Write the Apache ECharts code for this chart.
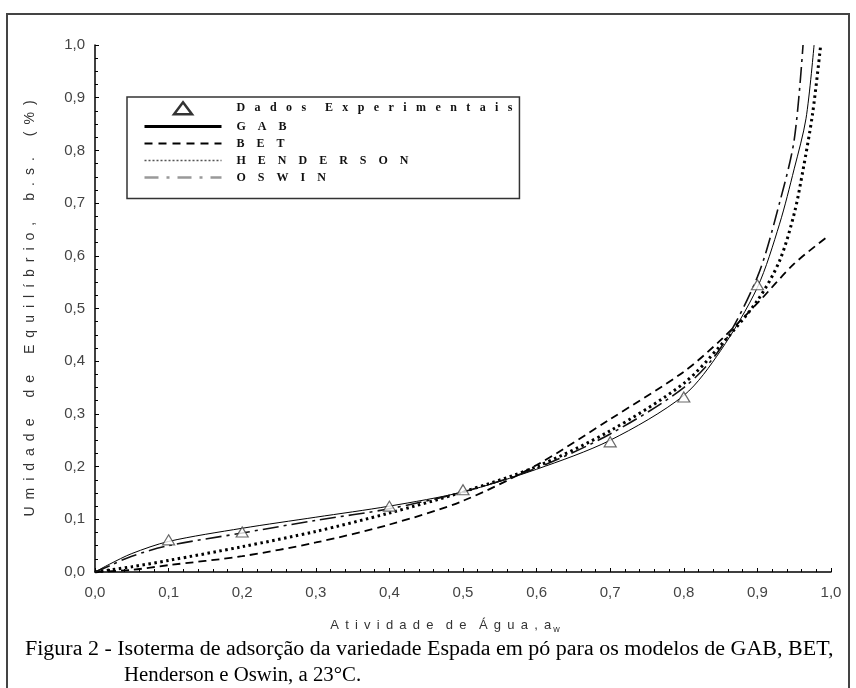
<!DOCTYPE html>
<html>
<head>
<meta charset="utf-8">
<script src="https://cdn.jsdelivr.net/npm/echarts@6/dist/echarts.min.js"></script>
<style>
  html, body { margin: 0; padding: 0; background: #fff; }
  #chart { width: 856px; height: 688px; }
</style>
</head>
<body>
<div id="chart"></div>
<script>
// pontos experimentais
const expAw = [0.1, 0.2, 0.4, 0.5, 0.7, 0.8, 0.9]
const expM = [0.061, 0.076, 0.125, 0.156, 0.247, 0.332, 0.545]

// curvas dos modelos
const gabAw = [0, 0.02, 0.05, 0.1, 0.2, 0.3, 0.4, 0.5, 0.6, 0.7, 0.8, 0.85, 0.9, 0.93, 0.95, 0.966, 0.977]
const gabM = [0, 0.015, 0.035, 0.058, 0.083, 0.104, 0.125, 0.152, 0.195, 0.25, 0.335, 0.42, 0.54, 0.66, 0.765, 0.86, 1.0]

const betAw = [0, 0.05, 0.1, 0.2, 0.3, 0.4, 0.5, 0.6, 0.7, 0.8, 0.85, 0.9, 0.95, 0.995]
const betM = [0, 0.004, 0.013, 0.03, 0.056, 0.09, 0.135, 0.203, 0.29, 0.38, 0.44, 0.51, 0.585, 0.636]

const hendAw = [0, 0.05, 0.1, 0.2, 0.3, 0.4, 0.5, 0.6, 0.7, 0.8, 0.85, 0.9, 0.93, 0.95, 0.962, 0.975, 0.986]
const hendM = [0, 0.01, 0.022, 0.048, 0.077, 0.112, 0.152, 0.2, 0.268, 0.358, 0.43, 0.515, 0.59, 0.68, 0.763, 0.87, 1.0]

const oswAw = [0, 0.02, 0.05, 0.1, 0.2, 0.3, 0.4, 0.5, 0.6, 0.7, 0.8, 0.85, 0.9, 0.93, 0.95, 0.962]
const oswM = [0, 0.012, 0.03, 0.05, 0.074, 0.098, 0.12, 0.152, 0.197, 0.262, 0.35, 0.425, 0.56, 0.7, 0.82, 1.0]

const pairs = (xs, ys) => xs.map((x, i) => [x, ys[i]])
const fmt = (v) => v.toFixed(1).replace('.', ',')
// espaçamento entre letras, como no original
const spaced = (s, gap, wordGap) => s.split(' ').map((w) => w.split('').join(gap)).join(wordGap || gap + gap + gap)

const chart = echarts.init(document.getElementById('chart'))

const axisLabel = { color: '#444', fontFamily: 'Liberation Sans', fontSize: 15 }
const hideDot = { opacity: 0 }
const lowGap = '\u2002\u2009\u200a'

chart.setOption({
  animation: false,
  backgroundColor: '#fff',
  grid: { left: 95, right: 25, top: 45, bottom: 116 },
  xAxis: {
    type: 'value',
    min: 0,
    max: 1,
    interval: 0.1,
    name: '{t|' + spaced('Atividade de Água,', ' \u2009', ' \u2009 \u2009') + ' \u2009a}{s|w}',
    nameLocation: 'middle',
    nameGap: 45,
    nameTextStyle: {
      padding: [0, 36, 0, 0],
      rich: {
        t: { fontFamily: 'Liberation Sans', fontSize: 13, color: '#333' },
        s: { fontFamily: 'Liberation Sans', fontSize: 9, color: '#333', padding: [8, 0, 0, 2] }
      }
    },
    axisLine: { lineStyle: { color: '#000', width: 1.5 } },
    axisTick: { inside: true, length: 4, lineStyle: { color: '#000' } },
    minorTick: { show: true, splitNumber: 5, length: 3, lineStyle: { color: '#000' } },
    splitLine: { show: false },
    axisLabel: Object.assign({ formatter: fmt, margin: 13 }, axisLabel)
  },
  yAxis: {
    type: 'value',
    min: 0,
    max: 1,
    interval: 0.1,
    name: spaced('Umidade de Equilíbrio, b.s. (%)', '\u2002'),
    nameLocation: 'middle',
    nameGap: 58,
    nameTextStyle: { fontFamily: 'Liberation Sans', fontSize: 14, color: '#333' },
    axisLine: { lineStyle: { color: '#000', width: 1.5 } },
    axisTick: { inside: true, length: 4, lineStyle: { color: '#000' } },
    minorTick: { show: true, splitNumber: 4, length: 3, lineStyle: { color: '#000' } },
    splitLine: { show: false },
    axisLabel: Object.assign({ formatter: fmt, margin: 10 }, axisLabel)
  },
  legend: {
    orient: 'vertical',
    left: 127,
    top: 97,
    padding: [4, 7, 15, 16],
    borderColor: '#333',
    borderWidth: 1.5,
    itemWidth: 77,
    itemHeight: 12,
    itemGap: 5,
    symbolKeepAspect: true,
    selectedMode: false,
    formatter: (n) => (n === n.toUpperCase() ? spaced(n, '\u2003') : spaced(n, lowGap, lowGap + lowGap)),
    textStyle: {
      fontFamily: 'Liberation Serif',
      fontWeight: 'bold',
      fontSize: 12,
      color: '#111',
      lineHeight: 12,
      padding: [0, 0, 0, 10]
    },
    data: [
      { name: 'Dados Experimentais', icon: 'path://M6,0L12,8L0,8Z', itemStyle: { color: '#fff', borderColor: '#000', borderWidth: 2.5 } },
      { name: 'GAB', itemStyle: hideDot, lineStyle: { width: 3, color: '#000' } },
      { name: 'BET', itemStyle: hideDot, lineStyle: { width: 2, color: '#000', type: [8, 6] } },
      { name: 'HENDERSON', itemStyle: hideDot, lineStyle: { width: 1.5, color: '#555', type: [2, 2] } },
      { name: 'OSWIN', itemStyle: hideDot, lineStyle: { width: 2.5, color: '#999', type: [14, 8, 3, 8] } }
    ]
  },
  graphic: [
    {
      type: 'rect',
      shape: { x: 7, y: 14, width: 842, height: 700 },
      style: { fill: 'none', stroke: '#444', lineWidth: 2 },
      silent: true
    },
    {
      type: 'text',
      x: 25,
      y: 640,
      scaleX: 1.1,
      style: {
        text: 'Figura 2 - Isoterma de adsorção da variedade Espada em pó para os modelos de GAB, BET,',
        font: '20px "Liberation Serif"',
        fill: '#000'
      }
    },
    {
      type: 'text',
      x: 124,
      y: 666,
      scaleX: 1.04,
      style: {
        text: 'Henderson e Oswin, a 23°C.',
        font: '20px "Liberation Serif"',
        fill: '#000'
      }
    }
  ],
  series: [
    {
      name: 'GAB',
      type: 'line',
      data: pairs(gabAw, gabM),
      symbol: 'none',
      smooth: 0.3,
      color: '#000',
      lineStyle: { color: '#000', width: 1 },
      z: 3
    },
    {
      name: 'BET',
      type: 'line',
      data: pairs(betAw, betM),
      symbol: 'none',
      smooth: 0.3,
      color: '#000',
      lineStyle: { color: '#000', width: 1.8, type: [8, 5] },
      z: 3
    },
    {
      name: 'HENDERSON',
      type: 'line',
      data: pairs(hendAw, hendM),
      symbol: 'none',
      smooth: 0.3,
      color: '#000',
      lineStyle: { color: '#000', width: 3, type: [2.5, 3.5] },
      z: 3
    },
    {
      name: 'OSWIN',
      type: 'line',
      data: pairs(oswAw, oswM),
      symbol: 'none',
      smooth: 0.3,
      color: '#000',
      lineStyle: { color: '#111', width: 1.6, type: [16, 5, 3, 5] },
      z: 3
    },
    {
      name: 'Dados Experimentais',
      type: 'scatter',
      data: pairs(expAw, expM),
      symbol: 'triangle',
      symbolSize: [12, 10],
      itemStyle: { color: '#fff', borderColor: '#444', borderWidth: 1.2 },
      z: 5
    }
  ]
})
</script>
</body>
</html>
